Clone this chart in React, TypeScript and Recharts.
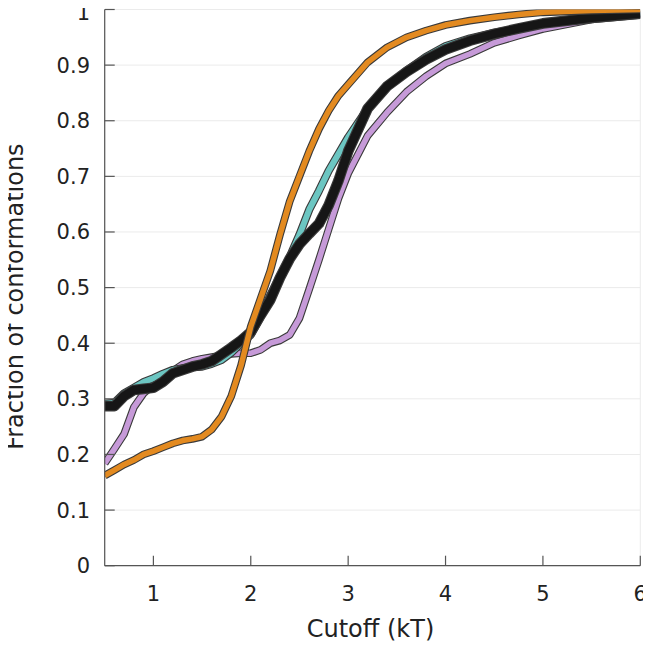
import React from 'react';
import { LineChart, Line, XAxis, YAxis, CartesianGrid, Label } from 'recharts';

// cutoff in kT
const cutoff = [
  0.5, 0.6, 0.7, 0.8, 0.9, 1.0, 1.1, 1.2, 1.3, 1.4, 1.5, 1.6, 1.7, 1.8, 1.9, 2.0,
  2.1, 2.2, 2.3, 2.4, 2.5, 2.6, 2.7, 2.8, 2.9, 3.0, 3.2, 3.4, 3.6, 3.8, 4.0, 4.25,
  4.5, 4.75, 5.0, 5.5, 6.0,
];

const orangeFrac = [
  0.162, 0.172, 0.182, 0.19, 0.2, 0.206, 0.213, 0.22, 0.225, 0.228, 0.232, 0.245, 0.268, 0.305, 0.36, 0.43,
  0.48, 0.53, 0.595, 0.655, 0.7, 0.745, 0.785, 0.818, 0.845, 0.865, 0.905, 0.932, 0.95, 0.962, 0.972, 0.98,
  0.986, 0.991, 0.995, 0.998, 1.0,
];

const cyanFrac = [
  0.291, 0.293, 0.31, 0.32, 0.33, 0.337, 0.345, 0.352, 0.355, 0.357, 0.358, 0.363, 0.37, 0.383, 0.4, 0.415,
  0.447, 0.486, 0.52, 0.555, 0.595, 0.64, 0.674, 0.71, 0.74, 0.77, 0.822, 0.862, 0.89, 0.915, 0.934, 0.948,
  0.958, 0.966, 0.975, 0.985, 0.993,
];

const blackFrac = [
  0.287, 0.287, 0.305, 0.316, 0.318, 0.32, 0.331, 0.346, 0.352, 0.358, 0.362, 0.368, 0.38, 0.392, 0.405, 0.42,
  0.45, 0.478, 0.518, 0.552, 0.578, 0.597, 0.615, 0.648, 0.692, 0.745, 0.822, 0.862, 0.888, 0.91, 0.928, 0.944,
  0.956, 0.966, 0.975, 0.985, 0.993,
];

const purpleFrac = [
  0.184, 0.21, 0.237, 0.285, 0.31, 0.325, 0.338, 0.35, 0.362, 0.368, 0.372, 0.375, 0.378, 0.381, 0.382, 0.382,
  0.388, 0.4, 0.405, 0.415, 0.445, 0.497, 0.55, 0.605, 0.66, 0.705, 0.773, 0.815, 0.852, 0.88, 0.903, 0.92,
  0.94, 0.953, 0.965, 0.982, 0.99,
];

const xTicks = [1, 2, 3, 4, 5, 6];
const xHalfTicks = [0.5, 1, 1.5, 2, 2.5, 3, 3.5, 4, 4.5, 5, 5.5, 6];
const yTicks = [0, 0.1, 0.2, 0.3, 0.4, 0.5, 0.6, 0.7, 0.8, 0.9, 1];

const data = cutoff.map((x, i) => ({
  x,
  orange: orangeFrac[i],
  cyan: cyanFrac[i],
  black: blackFrac[i],
  purple: purpleFrac[i],
}));

// drawing order: first is at the bottom
const series = [
  { key: 'purple', color: '#c69ad8', width: 5.5 },
  { key: 'cyan', color: '#6cc6c2', width: 6 },
  { key: 'black', color: '#161616', width: 8.5 },
  { key: 'orange', color: '#e38a20', width: 5.5 },
];

const FONT = '"DejaVu Sans", sans-serif';
const AXIS = '#555';

export default function App() {
  const lines = series.flatMap((s) => [
    <Line
      key={s.key + '-edge'}
      dataKey={s.key}
      type="linear"
      stroke="#3a3a3a"
      strokeWidth={s.width + 2.2}
      strokeLinejoin="round"
      dot={false}
      activeDot={false}
      isAnimationActive={false}
    />,
    <Line
      key={s.key}
      dataKey={s.key}
      type="linear"
      stroke={s.color}
      strokeWidth={s.width}
      strokeLinejoin="round"
      dot={false}
      activeDot={false}
      isAnimationActive={false}
    />,
  ]);

  return (
    <div style={{ margin: '-8px 0 0 -8px', width: 651, height: 645 }}>
      <LineChart
        width={651}
        height={645}
        data={data}
        margin={{ top: 9.5, right: 10.7, bottom: 0, left: 8 }}
      >
        <CartesianGrid xAxisId="top" stroke="#ebebeb" strokeWidth={1} />
        <XAxis
          dataKey="x"
          type="number"
          domain={[0.5, 6]}
          ticks={xTicks}
          allowDataOverflow
          height={79.3}
          tickSize={-10}
          tickMargin={30}
          stroke={AXIS}
          strokeWidth={1.2}
          tick={{ fill: '#222', fontSize: 21, fontFamily: FONT }}
          label={
            <Label
              content={({ viewBox }: any) => (
                <text
                  x={viewBox.x + viewBox.width / 2 - 2}
                  y={viewBox.y + 71}
                  textAnchor="middle"
                  fill="#222"
                  fontSize={24}
                  fontFamily={FONT}
                >
                  Cutoff (kT)
                </text>
              )}
            />
          }
        />
        <XAxis
          xAxisId="top"
          orientation="top"
          type="number"
          domain={[0.5, 6]}
          ticks={xHalfTicks}
          allowDataOverflow
          height={0}
          tickSize={-10}
          tick={false}
          stroke={AXIS}
          strokeWidth={1.2}
        />
        <YAxis
          type="number"
          domain={[0, 1]}
          ticks={yTicks}
          allowDataOverflow
          width={96.7}
          tickSize={-10}
          tickMargin={24.7}
          stroke={AXIS}
          strokeWidth={1.2}
          tick={{ fill: '#222', fontSize: 21, fontFamily: FONT }}
          label={
            <Label
              content={({ viewBox }: any) => {
                const cx = viewBox.x + 15.3;
                const cy = viewBox.y + viewBox.height / 2 + 9;
                return (
                  <text
                    x={cx}
                    y={cy}
                    transform={`rotate(-90 ${cx} ${cy})`}
                    textAnchor="middle"
                    fill="#222"
                    fontSize={24}
                    fontFamily={FONT}
                  >
                    Fraction of conformations
                  </text>
                );
              }}
            />
          }
        />
        <YAxis
          yAxisId="right"
          orientation="right"
          type="number"
          domain={[0, 1]}
          ticks={yTicks}
          allowDataOverflow
          width={0}
          tickSize={-10}
          tick={false}
          stroke={AXIS}
          strokeWidth={1.2}
        />
        {lines}
      </LineChart>
    </div>
  );
}
